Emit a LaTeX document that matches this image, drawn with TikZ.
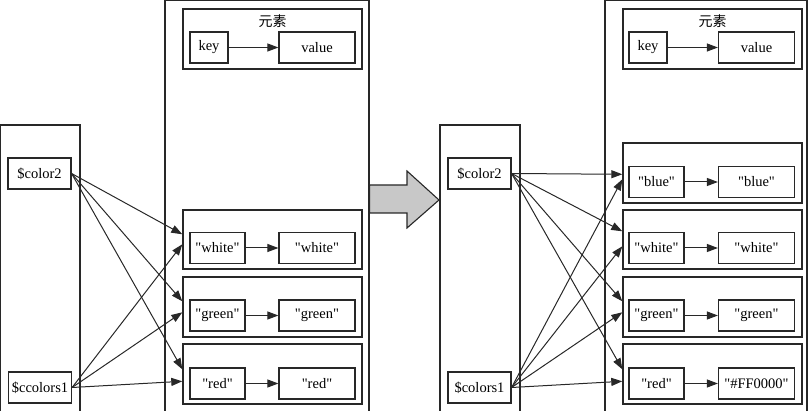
\documentclass[tikz,border=0pt]{standalone}
\usepackage{fontspec}
\setmainfont{Liberation Serif}
\newfontfamily\plainserif{Liberation Serif}
\newfontfamily\cjk{Noto Sans CJK SC}
\usetikzlibrary{arrows.meta}
\definecolor{ln}{HTML}{282828}
\definecolor{bf}{HTML}{C8C8C8}
\tikzset{
  colline/.style={draw=ln, line width=1.1pt},
  grp/.style={draw=ln, line width=1.4pt, inner sep=0pt, minimum width=179pt},
  cell/.style={draw=ln, line width=1.2pt, inner sep=0pt, minimum height=31pt, font=\plainserif\fontsize{14.5}{16}\selectfont},
  var/.style={cell, minimum width=63pt},
  kc/.style={cell, minimum width=55pt},
  vc/.style={cell, minimum width=76pt},
  ttl/.style={font=\cjk\fontsize{14}{16}\selectfont},
  link/.style={draw=ln, line width=1pt, -{Triangle[length=11pt,width=8pt]}},
}
\begin{document}
\begin{tikzpicture}[x=1pt,y=-1pt]
\useasboundingbox (0,0) rectangle (809,411);
% ---------- left panel ----------
\draw[colline] (0.7,415) -- (0.7,125) -- (80,125) -- (80,415);
\draw[colline] (165,415) -- (165,0.9) -- (369,0.9) -- (369,415);
\node[grp, minimum height=60pt] (eL) at (272.5,39) {};
\node[ttl] (tL) at (272.5,21) {元素};
\node[cell, minimum width=38pt] (kL) at (209,47.5) {key};
\node[vc] (vL) at (317,47.5) {value};
\draw[link] (kL) -- (vL);

\node[grp, minimum height=59pt] (wL) at (272.5,239.5) {};
\node[kc] (wkL) at (217.5,248) {"white"};
\node[vc] (wvL) at (317,248) {"white"};
\draw[link] (wkL) -- (wvL);

\node[grp, minimum height=60pt] (gL) at (272.5,307) {};
\node[kc] (gkL) at (217.5,315.5) {"green"};
\node[vc] (gvL) at (317,315.5) {"green"};
\draw[link] (gkL) -- (gvL);

\node[grp, minimum height=60pt] (rL) at (272.5,374) {};
\node[kc] (rkL) at (217.5,383.5) {"red"};
\node[vc] (rvL) at (317,383.5) {"red"};
\draw[link] (rkL) -- (rvL);

\node[var] (c2L) at (39.5,173.5) {\$color2};
\node[var] (c1L) at (40,387.5) {\$ccolors1};

\draw[link] (c2L.east) -- ([yshift=-25pt]wL.north west);
\draw[link] (c2L.east) -- ([yshift=-25pt]gL.north west);
\draw[link] (c2L.east) -- ([yshift=-26pt]rL.north west);
\draw[link] (c1L.east) -- ([yshift=-35pt]wL.north west);
\draw[link] (c1L.east) -- ([yshift=-36pt]gL.north west);
\draw[link] (c1L.east) -- ([yshift=-38pt]rL.north west);

% ---------- block arrow ----------
\draw[draw=ln, line width=1.1pt, fill=bf, line join=miter]
  (369.5,185) -- (407,185) -- (407,171) -- (439,200) -- (407,228) -- (407,213) -- (369.5,213) -- cycle;

% ---------- right panel ----------
\draw[colline] (440,415) -- (440,125) -- (520,125) -- (520,415);
\draw[colline] (605,415) -- (605,0.9) -- (807,0.9) -- (807,415);
\node[grp, minimum height=60pt] (eR) at (712.5,39) {};
\node[ttl] (tR) at (712.5,21) {元素};
\node[cell, minimum width=38pt] (kR) at (648,47.5) {key};
\node[vc] (vR) at (756.5,47.5) {value};
\draw[link] (kR) -- (vR);

\node[grp, minimum height=60pt] (bR) at (712.5,173) {};
\node[kc] (bkR) at (656.5,182) {"blue"};
\node[vc] (bvR) at (756.5,182) {"blue"};
\draw[link] (bkR) -- (bvR);

\node[grp, minimum height=59pt] (wR) at (712.5,239.5) {};
\node[kc] (wkR) at (656.5,248) {"white"};
\node[vc] (wvR) at (756.5,248) {"white"};
\draw[link] (wkR) -- (wvR);

\node[grp, minimum height=60pt] (gR) at (712.5,307) {};
\node[kc] (gkR) at (656.5,315.5) {"green"};
\node[vc] (gvR) at (756.5,315.5) {"green"};
\draw[link] (gkR) -- (gvR);

\node[grp, minimum height=60pt] (rR) at (712.5,374) {};
\node[kc] (rkR) at (656.5,383.5) {"red"};
\node[vc] (rvR) at (756.5,383.5) {"\#FF0000"};
\draw[link] (rkR) -- (rvR);

\node[var] (c2R) at (479.5,173.5) {\$color2};
\node[var] (c1R) at (479.5,387.5) {\$colors1};

\draw[link] (c2R.east) -- ([yshift=-32pt]bR.north west);
\draw[link] (c2R.east) -- ([yshift=-22pt]wR.north west);
\draw[link] (c2R.east) -- ([yshift=-25pt]gR.north west);
\draw[link] (c2R.east) -- ([yshift=-26pt]rR.north west);
\draw[link] (c1R.east) -- ([yshift=-37pt]bR.north west);
\draw[link] (c1R.east) -- ([yshift=-37pt]wR.north west);
\draw[link] (c1R.east) -- ([yshift=-36pt]gR.north west);
\draw[link] (c1R.east) -- ([yshift=-38pt]rR.north west);
\end{tikzpicture}
\end{document}
